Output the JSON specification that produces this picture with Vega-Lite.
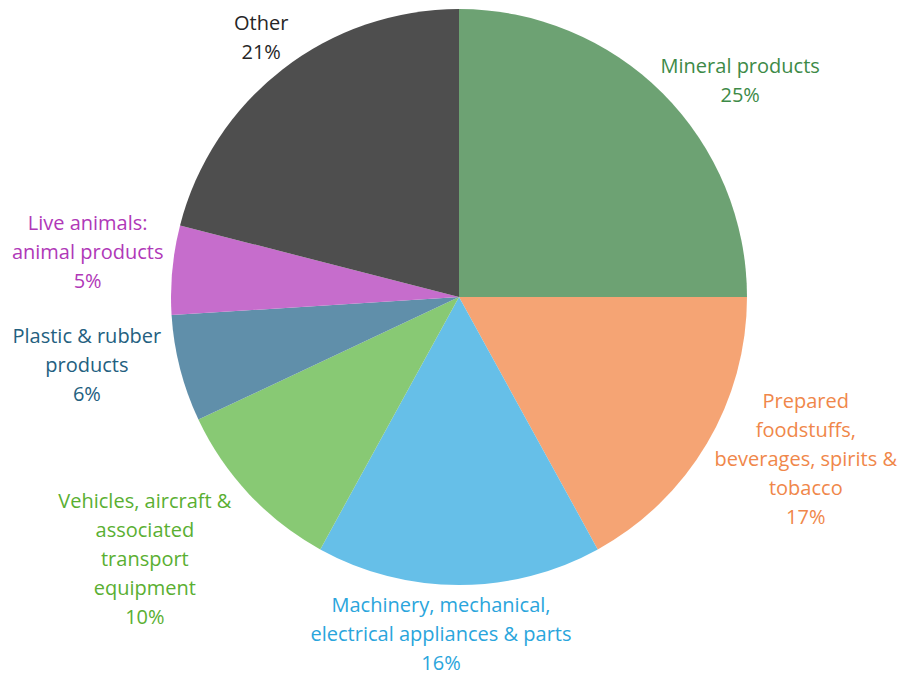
{
  "$schema": "https://vega.github.io/schema/vega-lite/v6.json",
  "autosize": {"type": "none"},
  "width": 888,
  "height": 594,
  "padding": {"left": 15, "top": 0, "right": 1, "bottom": 81},
  "background": "white",
  "config": {"view": {"stroke": null}, "text": {"font": "Open Sans", "fontSize": 20, "lineHeight": 29}},
  "data": {
    "values": [
      {"order": 1, "name": "Mineral products", "value": 25},
      {"order": 2, "name": "Prepared\nfoodstuffs,\nbeverages, spirits &\ntobacco", "value": 17},
      {"order": 3, "name": "Machinery, mechanical,\nelectrical appliances & parts", "value": 16},
      {"order": 4, "name": "Vehicles, aircraft &\nassociated\ntransport\nequipment", "value": 10},
      {"order": 5, "name": "Plastic & rubber\nproducts", "value": 6},
      {"order": 6, "name": "Live animals:\nanimal products", "value": 5},
      {"order": 7, "name": "Other", "value": 21}
    ]
  },
  "transform": [
    {"stack": "value", "groupby": [], "sort": [{"field": "order", "order": "ascending"}], "as": ["v0", "v1"]},
    {"calculate": "(datum.v0 + datum.v1) / 2", "as": "mid"},
    {"calculate": "datum.name + '\\n' + datum.value + '%'", "as": "label"}
  ],
  "layer": [
    {
      "mark": {"type": "arc", "radius": 288, "stroke": null},
      "encoding": {
        "theta": {"field": "v0", "type": "quantitative", "scale": {"domain": [0, 100]}},
        "theta2": {"field": "v1"},
        "color": {
          "field": "order", "type": "nominal", "legend": null,
          "scale": {"domain": [1, 2, 3, 4, 5, 6, 7], "range": ["#6DA273", "#F5A474", "#66BFE8", "#88C974", "#608FAA", "#C66DCC", "#4E4E4E"]}
        }
      }
    },
    {
      "transform": [{"filter": "datum.order == 1"}],
      "mark": {"type": "text", "radius": 351, "dx": 33, "dy": 18, "align": "center", "baseline": "middle", "lineBreak": "\n", "fill": "#3D8A47"},
      "encoding": {"theta": {"field": "mid", "type": "quantitative"}, "text": {"field": "label"}}
    },
    {
      "transform": [{"filter": "datum.order == 2"}],
      "mark": {"type": "text", "radius": 382, "dx": 18, "dy": -89, "align": "center", "baseline": "middle", "lineBreak": "\n", "fill": "#F0874A"},
      "encoding": {"theta": {"field": "mid", "type": "quantitative"}, "text": {"field": "label"}}
    },
    {
      "transform": [{"filter": "datum.order == 3"}],
      "mark": {"type": "text", "radius": 338, "dx": -18, "dy": -29, "align": "center", "baseline": "middle", "lineBreak": "\n", "fill": "#2AA5DC"},
      "encoding": {"theta": {"field": "mid", "type": "quantitative"}, "text": {"field": "label"}}
    },
    {
      "transform": [{"filter": "datum.order == 4"}],
      "mark": {"type": "text", "radius": 409, "dx": -16, "dy": -75, "align": "center", "baseline": "middle", "lineBreak": "\n", "fill": "#5AAF32"},
      "encoding": {"theta": {"field": "mid", "type": "quantitative"}, "text": {"field": "label"}}
    },
    {
      "transform": [{"filter": "datum.order == 5"}],
      "mark": {"type": "text", "radius": 378, "dx": -6, "dy": -54, "align": "center", "baseline": "middle", "lineBreak": "\n", "fill": "#236080"},
      "encoding": {"theta": {"field": "mid", "type": "quantitative"}, "text": {"field": "label"}}
    },
    {
      "transform": [{"filter": "datum.order == 6"}],
      "mark": {"type": "text", "radius": 374, "dx": 1, "dy": -38, "align": "center", "baseline": "middle", "lineBreak": "\n", "fill": "#B038B8"},
      "encoding": {"theta": {"field": "mid", "type": "quantitative"}, "text": {"field": "label"}}
    },
    {
      "transform": [{"filter": "datum.order == 7"}],
      "mark": {"type": "text", "radius": 326, "dx": 2, "dy": -15, "align": "center", "baseline": "middle", "lineBreak": "\n", "fill": "#262626"},
      "encoding": {"theta": {"field": "mid", "type": "quantitative"}, "text": {"field": "label"}}
    }
  ]
}
